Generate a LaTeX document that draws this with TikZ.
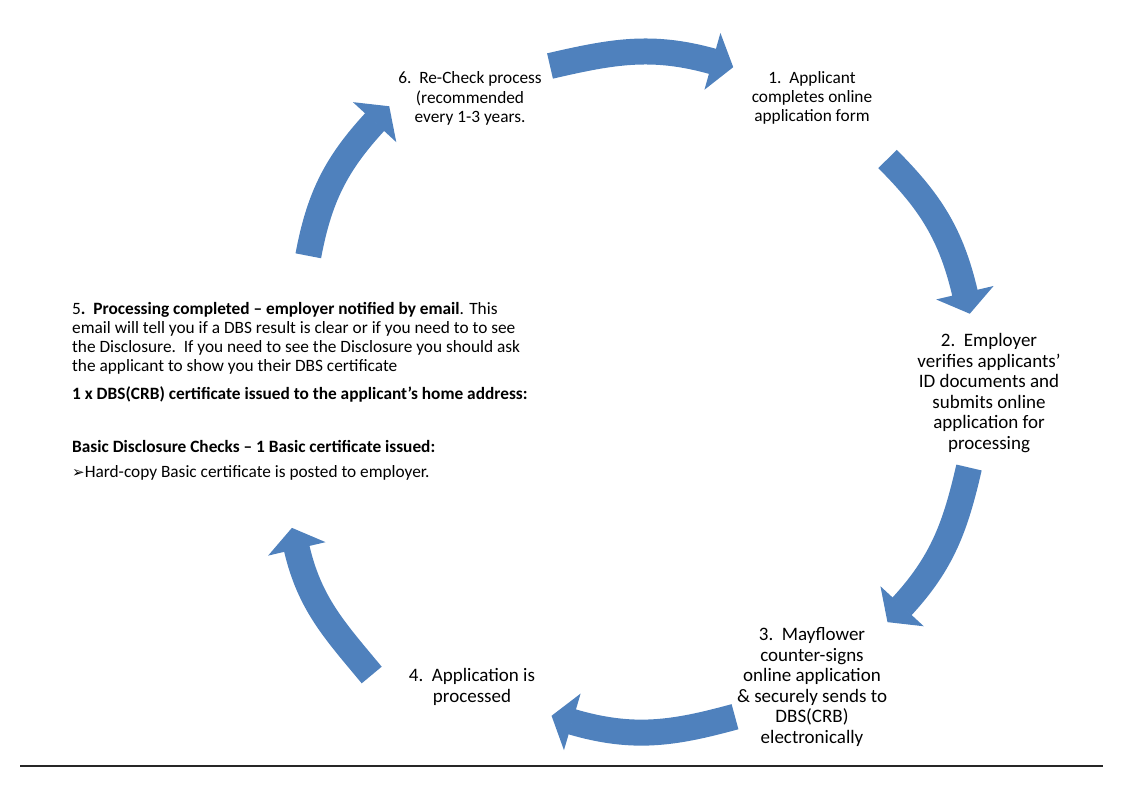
\documentclass[tikz,border=0pt]{standalone}
\usepackage{fontspec}
\setmainfont{Carlito}
\newfontfamily\symfont{DejaVu Sans}
\usetikzlibrary{calc}
\definecolor{arrowblue}{HTML}{4F81BD}
\newcommand\arrowheadat[2]{%
  \fill[arrowhead] ($(#1)+(#2:-0.6)+(#2+90:29.5)$) -- ($(#1)+(#2:21)$) -- ($(#1)+(#2:-0.6)+(#2-90:29.5)$) -- cycle;}
\begin{document}
\begin{tikzpicture}[x=1pt,y=1pt,
  band/.style={draw=arrowblue, line width=26pt},
  arrowhead/.style={fill=arrowblue},
  steptext/.style={align=center, inner sep=0pt, font=\fontsize{19}{20.5}\selectfont},
  smalltext/.style={align=center, inner sep=0pt, font=\fontsize{17.3}{19.3}\selectfont},
  notetext/.style={align=left, inner sep=0pt, anchor=west, font=\fontsize{17.3}{19.3}\selectfont},
  rule/.style={draw=black!85, line width=1.5pt}]
\useasboundingbox (0,0) rectangle (1123,-794);

% step texts
\node[smalltext] (s1) at (812,-98) {1.\ \ Applicant\\completes online\\application form};
\node[steptext] (s2) at (989,-393) {2.\ \ Employer\\verifies applicants’\\ID documents and\\submits online\\application for\\processing};
\node[steptext] (s3) at (812,-687) {3.\ \ Mayflower\\counter-signs\\online application\\\& securely sends to\\DBS(CRB)\\electronically};
\node[steptext] (s4) at (472,-687) {4.\ \ Application is\\processed};
\node[smalltext] (s6) at (470,-98.5) {6.\ \ Re-Check process\\(recommended\\every 1-3 years.};

% step 5 notes
\node[notetext] (s5) at (72,-338.3) {5\textbf{.\ \ Processing completed – employer notified by email}. This\\email will tell you if a DBS result is clear or if you need to to see\\the Disclosure.\ \ If you need to see the Disclosure you should ask\\the applicant to show you their DBS certificate};
\node[notetext] (s5a) at (72,-394) {\textbf{1 x DBS(CRB) certificate issued to the applicant’s home address:}};
\node[notetext] (s5b) at (72,-446.5) {\textbf{Basic Disclosure Checks – 1 Basic certificate issued:}};
\node[notetext] (s5c) at (72,-473) {{\symfont\fontsize{15}{17}\selectfont ➢}Hard-copy Basic certificate is posted to employer.};

% arrow 1 (top)
\coordinate (t1) at (550,-66);
\coordinate (h1) at (713,-61.5);
\draw[band] (t1) to[out=13,in=164.3] (h1);
\arrowheadat{h1}{-15.7}
% arrow 2
\coordinate (t2) at (887.5,-159);
\coordinate (h2) at (965,-293.3);
\draw[band] (t2) to[out=-45,in=103.2] (h2);
\arrowheadat{h2}{-76.8}
% arrow 3
\coordinate (t3) at (969,-467.5);
\coordinate (h3) at (901.7,-606.7);
\draw[band] (t3) to[out=-103,in=47.3] (h3);
\arrowheadat{h3}{-132.7}
% arrow 4 (bottom)
\coordinate (t4) at (735,-716.7);
\coordinate (h4) at (571.7,-721.7);
\draw[band] (t4) to[out=195.3,in=-16.4] (h4);
\arrowheadat{h4}{163.6}
% arrow 5
\coordinate (t5) at (371.7,-675);
\coordinate (h5) at (296.7,-548.3);
\draw[band] (t5) to[out=129.7,in=-76.8] (h5);
\arrowheadat{h5}{103.2}
% arrow 6
\coordinate (t6) at (308.3,-255.8);
\coordinate (h6) at (375,-121.7);
\draw[band] (t6) to[out=79.4,in=-132.7] (h6);
\arrowheadat{h6}{47.3}

% bottom rule
\coordinate (r1) at (20,-766);
\coordinate (r2) at (1103,-766);
\draw[rule] (r1) -- (r2);
\end{tikzpicture}
\end{document}
